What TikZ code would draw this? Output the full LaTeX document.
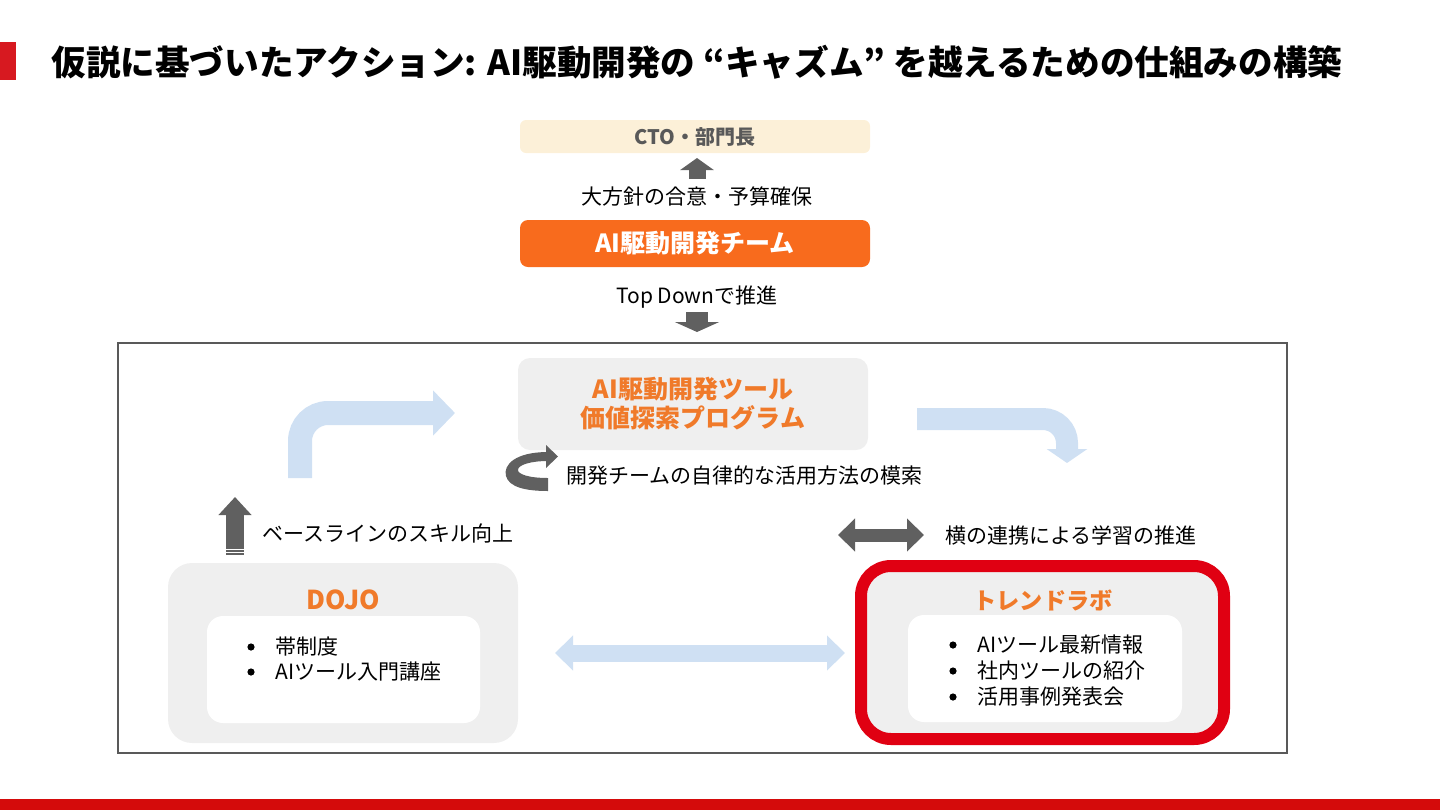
\documentclass[tikz,border=0pt]{standalone}
\usepackage{fontspec}
\setmainfont{Noto Sans CJK JP}
\usetikzlibrary{arrows.meta}
\definecolor{brandred}{HTML}{D71920}
\definecolor{barred}{HTML}{D40B0B}
\definecolor{boxred}{HTML}{E00012}
\definecolor{cream}{HTML}{FCF0D8}
\definecolor{teamorange}{HTML}{F86B1D}
\definecolor{txtorange}{HTML}{F07A2A}
\definecolor{panel}{HTML}{EFEFEF}
\definecolor{lightblue}{HTML}{CFE0F3}
\definecolor{darkgray}{HTML}{606060}
\definecolor{ctotext}{HTML}{595959}
\tikzset{
  body/.style={font=\fontsize{10.5}{12}\selectfont, text=black, inner sep=0pt},
  otitle/.style={font=\fontsize{12}{14}\selectfont\bfseries, text=txtorange, inner sep=0pt},
  panelbox/.style={fill=panel, rounded corners=12pt},
  whitebox/.style={fill=white, rounded corners=8pt},
  bul/.style={fill=black},
}
\begin{document}
\begin{tikzpicture}[x=0.5pt,y=-0.5pt]
\useasboundingbox (0,0) rectangle (1440,810);
% header
\fill[brandred] (0,42) rectangle (16,80);
\node[anchor=west, inner sep=0pt, font=\fontsize{17.3}{20}\selectfont\bfseries] (title) at (51,62) {仮説に基づいたアクション: AI駆動開発の “キャズム” を越えるための仕組みの構築};
\fill[barred] (0,799) rectangle (1440,810);

% top part
\node[fill=cream, rounded corners=3pt, minimum width=175pt, minimum height=16.5pt, text=ctotext, font=\fontsize{10}{12}\selectfont\bfseries] (cto) at (695,136.5) {CTO・部門長};
\node[body] (policy) at (697,197) {大方針の合意・予算確保};
\node[fill=teamorange, rounded corners=4pt, minimum width=175pt, minimum height=23.5pt, text=white, font=\fontsize{12.5}{14}\selectfont\bfseries] (team) at (695,243.5) {AI駆動開発チーム};
\node[body] (topdown) at (697,297) {Top Downで推進};
\coordinate (upA) at (697,179);
\coordinate (upB) at (697,158);
\draw[darkgray, line width=8.5pt, -{Triangle[width=16.5pt,length=6pt]}] (upA) -- (upB);
\coordinate (dnA) at (697,312);
\coordinate (dnB) at (697,332);
\draw[darkgray, line width=11pt, -{Triangle[width=22pt,length=5pt]}] (dnA) -- (dnB);

% frame
\draw[ctotext, line width=1pt] (118,343) rectangle (1287,753);

% program box
\node[panelbox, rounded corners=6pt, minimum width=175pt, minimum height=46pt, align=center, text=txtorange, font=\fontsize{12.5}{14.5}\selectfont\bfseries] (prog) at (693,404) {AI駆動開発ツール\\価値探索プログラム};

% bent arrows
\coordinate (lbA) at (300,478);
\coordinate (lbB) at (455,413);
\draw[lightblue, line width=12pt, rounded corners=14pt, -{Triangle[width=22pt,length=11pt]}] (lbA) |- (lbB);
\coordinate (rbA) at (917,419);
\coordinate (rbB) at (1067,463);
\draw[lightblue, line width=11pt, rounded corners=12pt, -{Triangle[width=20pt,length=7pt]}] (rbA) -| (rbB);

% circular arrow
\fill[darkgray] (548,452) .. controls (515,452) and (503,465) .. (506,476)
  .. controls (509,487) and (525,491) .. (548,491) -- (548,478)
  .. controls (528,478) and (518,474) .. (518,470)
  .. controls (518,465) and (530,461) .. (548,461) -- cycle;
\fill[darkgray] (546,445) -- (558,456.5) -- (546,468) -- cycle;
\node[body, anchor=west] (explore) at (566,476) {開発チームの自律的な活用方法の模索};

% left up arrow
\coordinate (luA) at (235,555);
\coordinate (luB) at (235,497);
\draw[darkgray, line width=9pt, -{Triangle[width=16pt,length=9pt]}] (luA) -- (luB);
\draw[white, line width=0.5pt] (225,549) -- (245,549) (225,552) -- (245,552);
\node[body, anchor=west] (baseline) at (262,533) {ベースラインのスキル向上};

% gray double arrow
\coordinate (gdA) at (838,535);
\coordinate (gdB) at (924,535);
\draw[darkgray, line width=6.5pt, {Triangle[width=16pt,length=8.5pt]}-{Triangle[width=16pt,length=8.5pt]}] (gdA) -- (gdB);
\node[body, anchor=west] (horiz) at (945,535) {横の連携による学習の推進};

% DOJO
\node[panelbox, minimum width=175pt, minimum height=90pt] (dojo) at (343,653) {};
\node[otitle, font=\fontsize{13}{15}\selectfont\bfseries] (dojot) at (343,600) {DOJO};
\node[whitebox, minimum width=136.5pt, minimum height=53.5pt] (dojoin) at (343.5,669.5) {};
\fill[bul] (251,647) circle (3.6);
\fill[bul] (251,672) circle (3.6);
\node[body, anchor=west] (d1) at (275,647) {帯制度};
\node[body, anchor=west] (d2) at (275,672) {AIツール入門講座};

% light blue double arrow
\coordinate (bdA) at (555,653);
\coordinate (bdB) at (845,653);
\draw[lightblue, line width=8.5pt, {Triangle[width=17pt,length=9pt]}-{Triangle[width=17pt,length=9pt]}] (bdA) -- (bdB);

% Trend lab
\node[panelbox, draw=boxred, line width=6pt, rounded corners=15pt, minimum width=181.5pt, minimum height=86.5pt] (trend) at (1042.5,652.5) {};
\node[otitle, font=\fontsize{11.6}{14}\selectfont\bfseries] (trendt) at (1043,600) {トレンドラボ};
\node[whitebox, minimum width=137pt, minimum height=53.5pt] (trendin) at (1045,668.5) {};
\fill[bul] (953,645) circle (3.6);
\fill[bul] (953,671) circle (3.6);
\fill[bul] (953,697) circle (3.6);
\node[body, anchor=west] (t1) at (977,645) {AIツール最新情報};
\node[body, anchor=west] (t2) at (977,671) {社内ツールの紹介};
\node[body, anchor=west] (t3) at (977,697) {活用事例発表会};
\end{tikzpicture}
\end{document}
